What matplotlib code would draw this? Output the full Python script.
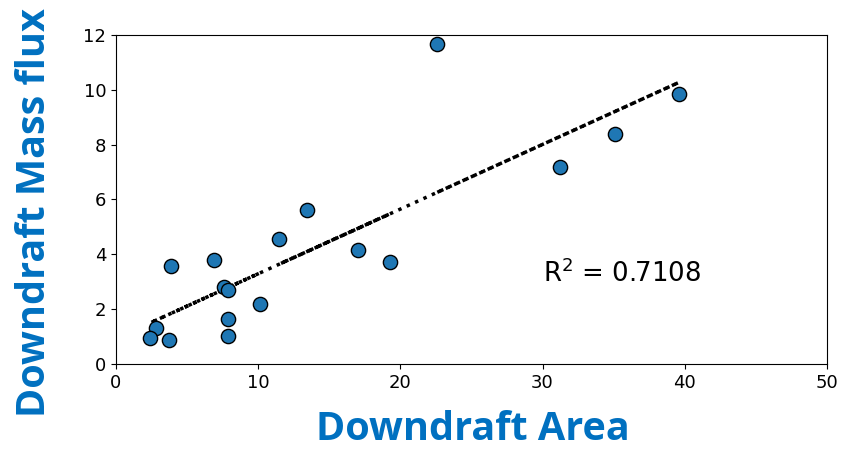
import numpy as np
import matplotlib.pyplot as plt

# downdraft area vs downdraft mass flux
area = [22.6, 39.6, 35.1, 31.2, 13.4, 11.5, 17.0, 19.3, 6.9, 3.9,
        7.6, 7.9, 10.1, 7.9, 7.9, 2.8, 2.4, 3.7]
mass_flux = [11.67, 9.85, 8.39, 7.18, 5.6, 4.56, 4.15, 3.72, 3.78, 3.57,
             2.79, 2.68, 2.2, 1.63, 1.03, 1.3, 0.94, 0.88]
r2_text = r'R$^2$ = 0.7108'

fig = plt.figure(figsize=(8.49, 4.51), dpi=100)
ax = fig.add_axes([0.1366, 0.193, 0.8374, 0.7294])

x = np.array(area)
y = np.array(mass_flux)
ax.scatter(x, y, s=105, color='#1f77b4', edgecolors='black', linewidths=1, zorder=3)

# linear trend line, drawn in data order like the original
slope, intercept = np.polyfit(x, y, 1)
ax.plot(x, slope * x + intercept, ':', color='black', linewidth=2.5, zorder=2)

ax.text(30, 3.0, r2_text, fontsize=18.7)

ax.set_xlim(0, 50)
ax.set_ylim(0, 12)
ax.set_xticks(np.arange(0, 51, 10))
ax.set_yticks(np.arange(0, 13, 2))
ax.tick_params(labelsize=13)

label_font = dict(family='Open Sans', fontweight='bold', color='#0070C0', fontsize=28.5)
fig.text(0.557, 0.047, 'Downdraft Area', ha='center', va='center', **label_font)
fig.text(0.041, 0.528, 'Downdraft Mass flux', ha='center', va='center', rotation=90, **label_font)

fig.savefig('out.png', dpi=100)
